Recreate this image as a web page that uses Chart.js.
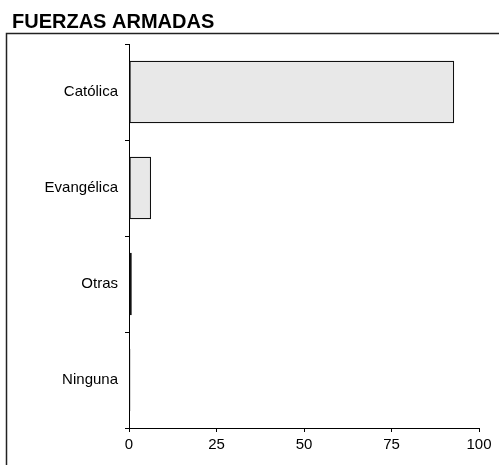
<!DOCTYPE html>
<html>
<head>
<meta charset="utf-8">
<script src="https://cdn.jsdelivr.net/npm/chart.js@4/dist/chart.umd.min.js"></script>
<style>
  html, body { margin: 0; padding: 0; background: #fff; }
  #wrap { width: 499px; height: 465px; position: relative; }
</style>
</head>
<body>
<div id="wrap"><canvas id="bar-chart"></canvas></div>
<script>
const chartTitle = "FUERZAS ARMADAS";
const categories = ["Católica", "Evangélica", "Otras", "Ninguna"];
const percentages = [92.9, 6.3, 0.8, 0.4];
const xTicks = [0, 25, 50, 75, 100];

// frame + title drawn behind the chart
const framePlugin = {
  id: "frame",
  beforeDraw(chart) {
    const ctx = chart.ctx;
    ctx.save();
    ctx.strokeStyle = "#222";
    ctx.lineWidth = 1.5;
    ctx.beginPath();
    ctx.moveTo(6.5, 465);
    ctx.lineTo(6.5, 33.5);
    ctx.lineTo(499, 33.5);
    ctx.stroke();
    ctx.fillStyle = "#000";
    ctx.font = "bold 20px 'Liberation Sans', Arial, sans-serif";
    ctx.textBaseline = "alphabetic";
    ctx.fillText(chartTitle, 12, 28);
    ctx.restore();
  },
};

const labelFont = { family: "'Liberation Sans', Arial, sans-serif", size: 15 };

new Chart(document.getElementById("bar-chart"), {
  type: "bar",
  data: {
    labels: categories,
    datasets: [
      {
        data: percentages,
        backgroundColor: "#e8e8e8",
        borderColor: "#111",
        borderWidth: 1.3,
        borderSkipped: false,
        categoryPercentage: 1,
        barPercentage: 0.65,
      },
    ],
  },
  options: {
    indexAxis: "y",
    responsive: true,
    maintainAspectRatio: false,
    animation: false,
    layout: { padding: { left: 0, top: 44, right: 20, bottom: 0 } },
    plugins: {
      legend: { display: false },
      tooltip: { enabled: false },
    },
    scales: {
      x: {
        type: "linear",
        min: 0,
        max: 100,
        afterBuildTicks: (axis) => {
          axis.ticks = xTicks.map((v) => ({ value: v }));
        },
        afterFit: (axis) => {
          axis.height = 37;
        },
        border: { display: true, color: "#000", width: 1 },
        grid: { drawOnChartArea: false, drawTicks: true, tickLength: 4, color: "#000" },
        ticks: { color: "#000", font: labelFont, padding: 4, maxRotation: 0 },
      },
      y: {
        type: "category",
        offset: true,
        afterFit: (axis) => {
          axis.width = 129;
        },
        border: { display: true, color: "#000", width: 1 },
        grid: { offset: true, drawOnChartArea: false, drawTicks: true, tickLength: 4, color: "#000" },
        ticks: { color: "#000", font: labelFont, padding: 7 },
      },
    },
  },
  plugins: [framePlugin],
});
</script>
</body>
</html>
